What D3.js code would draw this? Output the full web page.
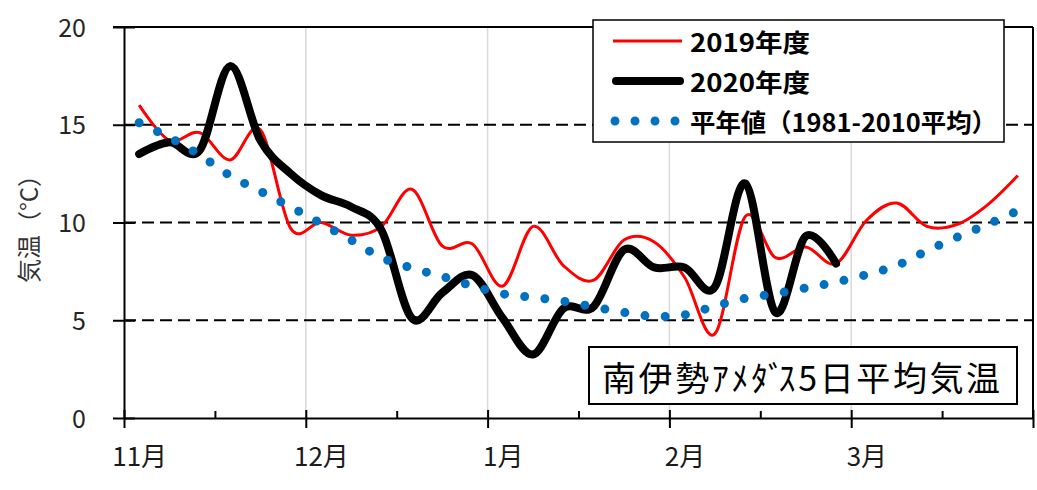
<!DOCTYPE html>
<html><head><meta charset="utf-8">
<script src="https://cdn.jsdelivr.net/npm/d3@7"></script>
<style>
body{margin:0;background:#fff}
svg{display:block}
text{font-family:"Noto Sans CJK JP","Noto Sans",sans-serif}
</style>
</head><body>
<svg id="c" width="1037" height="490"></svg>
<script>
// ---- data ----
const monthLabels = ["11月","12月","1月","2月","3月"];
const pentadsPerMonth = 6;
const pentads = monthLabels.flatMap(m => d3.range(1, pentadsPerMonth + 1).map(p => m + "第" + p + "半旬"));
const series2019 = [16.0, 14.2, 14.6, 13.2, 14.75, 9.7, 10.0, 9.35, 9.8, 11.7,
                    8.8, 8.9, 6.75, 9.8, 7.8, 7.05, 9.1, 9.0, 7.2, 4.3,
                    10.3, 8.2, 8.75, 7.9, 10.1, 11.0, 9.8, 9.9, 10.9, 12.4];
const series2020 = [13.5, 14.1, 13.7, 18.0, 14.2, 12.5, 11.4, 10.8, 9.6, 5.1,
                    6.4, 7.3, 5.1, 3.25, 5.6, 5.7, 8.6, 7.7, 7.7, 6.7,
                    12.0, 5.4, 9.3, 7.9];
const normalValues = [15.1, 14.35, 13.45, 12.4, 11.6, 10.8, 9.95, 9.1, 8.2, 7.67,
                      7.24, 6.76, 6.35, 6.17, 5.97, 5.68, 5.4, 5.2, 5.28, 5.72,
                      6.12, 6.36, 6.65, 6.95, 7.33, 7.8, 8.55, 9.25, 9.9, 10.6];
const yTicks = [0, 5, 10, 15, 20];
const dashedLevels = [5, 10, 15];
const legendLabels = ["2019年度", "2020年度", "平年値（1981-2010平均）"];
const titleParts = ["南伊勢ｱﾒﾀﾞ", "ｽ5日平均気温"];
const yTitle = "気温（°C）";

// ---- layout ----
const svg = d3.select("#c");
const L = 124, R = 1033, T = 27, B = 418;
const x = d3.scaleLinear().domain([0, pentads.length]).range([L, R]);
const y = d3.scaleLinear().domain([0, 20]).range([B, T]);
const cx = i => x(i + 0.5);
const FONT = '"Noto Sans CJK JP","Noto Sans",sans-serif';

// vertical light gridlines at month boundaries
svg.append("g").selectAll("line")
  .data(d3.range(pentadsPerMonth, pentads.length, pentadsPerMonth)).join("line")
  .attr("x1", d => x(d)).attr("x2", d => x(d))
  .attr("y1", T).attr("y2", B)
  .attr("stroke", "#d9d9d9").attr("stroke-width", 1.5);

// dashed horizontal gridlines
svg.append("g").selectAll("line").data(dashedLevels).join("line")
  .attr("x1", L).attr("x2", R)
  .attr("y1", d => y(d)).attr("y2", d => y(d))
  .attr("stroke", "#000").attr("stroke-width", 2)
  .attr("stroke-dasharray", "12,6");

// top & right border
svg.append("line").attr("x1", 113).attr("x2", R)
  .attr("y1", y(20)).attr("y2", y(20))
  .attr("stroke", "#000").attr("stroke-width", 2);
svg.append("line").attr("x1", R).attr("x2", R)
  .attr("y1", y(20)).attr("y2", y(0))
  .attr("stroke", "#000").attr("stroke-width", 2);

// y axis
const yAxis = svg.append("g").attr("transform", `translate(${L},0)`)
  .call(d3.axisLeft(y).tickValues(yTicks).tickSize(11).tickSizeOuter(0).tickPadding(27));
yAxis.attr("font-family", FONT).attr("font-size", 25);
yAxis.select(".domain").attr("stroke", "#000").attr("stroke-width", 2);
yAxis.selectAll(".tick line").attr("x1", 11).attr("stroke", "#000").attr("stroke-width", 2);
yAxis.selectAll(".tick text").attr("fill", "#262626").attr("dy", "0.36em");

// x axis (ticks)
const xAxis = svg.append("g").attr("transform", `translate(0,${B})`)
  .call(d3.axisBottom(x).tickValues(d3.range(0, pentads.length + 1, 3)).tickFormat("").tickSizeOuter(0));
xAxis.select(".domain").attr("stroke", "#000").attr("stroke-width", 2);
xAxis.selectAll(".tick line")
  .attr("stroke", "#000").attr("stroke-width", 2)
  .attr("y1", d => d % pentadsPerMonth === 0 ? -8 : -7)
  .attr("y2", d => d % pentadsPerMonth === 0 ? 10 : 0);

// x axis labels (month names at first pentad of each month)
const labelAxis = svg.append("g").attr("transform", `translate(0,${B})`)
  .call(d3.axisBottom(x)
    .tickValues(monthLabels.map((m, k) => k * pentadsPerMonth + 0.5))
    .tickSize(0).tickPadding(30)
    .tickFormat((d, k) => monthLabels[k]));
labelAxis.select(".domain").remove();
labelAxis.attr("font-family", FONT).attr("font-size", 26);
labelAxis.selectAll(".tick text").attr("fill", "#1a1a1a");

// y title
svg.append("text")
  .attr("transform", "translate(27,223) rotate(-90)")
  .attr("text-anchor", "middle").attr("dominant-baseline", "central")
  .attr("font-size", 24).attr("fill", "#333")
  .text(yTitle);

// lines
const line = d3.line().x((d, i) => cx(i)).y(d => y(d)).curve(d3.curveCardinal.tension(0));
svg.append("path").datum(series2019).attr("d", line)
  .attr("fill", "none").attr("stroke", "#ff0000").attr("stroke-width", 3)
  .attr("stroke-linejoin", "round");
svg.append("path").datum(series2020).attr("d", line)
  .attr("fill", "none").attr("stroke", "#000").attr("stroke-width", 8)
  .attr("stroke-linejoin", "round").attr("stroke-linecap", "round");
svg.append("path").datum(normalValues).attr("d", line)
  .attr("fill", "none").attr("stroke", "#0070c0").attr("stroke-width", 9)
  .attr("stroke-linecap", "round").attr("stroke-dasharray", "0,20.3");

// legend
const lg = svg.append("g");
lg.append("rect").attr("x", 593).attr("y", 20).attr("width", 411).attr("height", 122)
  .attr("fill", "#fff").attr("stroke", "#000").attr("stroke-width", 1.5);
const rowsY = [41, 81, 121];
lg.append("line").attr("x1", 613).attr("x2", 682).attr("y1", rowsY[0]).attr("y2", rowsY[0])
  .attr("stroke", "#ff0000").attr("stroke-width", 3);
lg.append("line").attr("x1", 616).attr("x2", 680).attr("y1", rowsY[1]).attr("y2", rowsY[1])
  .attr("stroke", "#000").attr("stroke-width", 8).attr("stroke-linecap", "round");
lg.append("line").attr("x1", 615).attr("x2", 680).attr("y1", rowsY[2]).attr("y2", rowsY[2])
  .attr("stroke", "#0070c0").attr("stroke-width", 9).attr("stroke-linecap", "round")
  .attr("stroke-dasharray", "0,20");
const legendWidths = [120, 120, 307];
lg.selectAll("text.lt").data(legendLabels).join("text").attr("class", "lt")
  .attr("x", 690).attr("y", (d, i) => rowsY[i])
  .attr("dominant-baseline", "central")
  .attr("font-size", 25).attr("font-weight", "bold").attr("fill", "#000")
  .attr("textLength", (d, i) => legendWidths[i]).attr("lengthAdjust", "spacingAndGlyphs")
  .text(d => d);

// title box
svg.append("rect").attr("x", 589).attr("y", 347).attr("width", 428).attr("height", 57)
  .attr("fill", "#fff").attr("stroke", "#000").attr("stroke-width", 2);
const tt = svg.append("text").attr("x", 602).attr("y", 376)
  .attr("dominant-baseline", "central")
  .attr("font-size", 34).attr("fill", "#000")
  .attr("letter-spacing", 2.6);
tt.selectAll("tspan").data(titleParts).join("tspan")
  .attr("dx", (d, i) => i === 0 ? 0 : -9)
  .text(d => d);
</script>
</body></html>
